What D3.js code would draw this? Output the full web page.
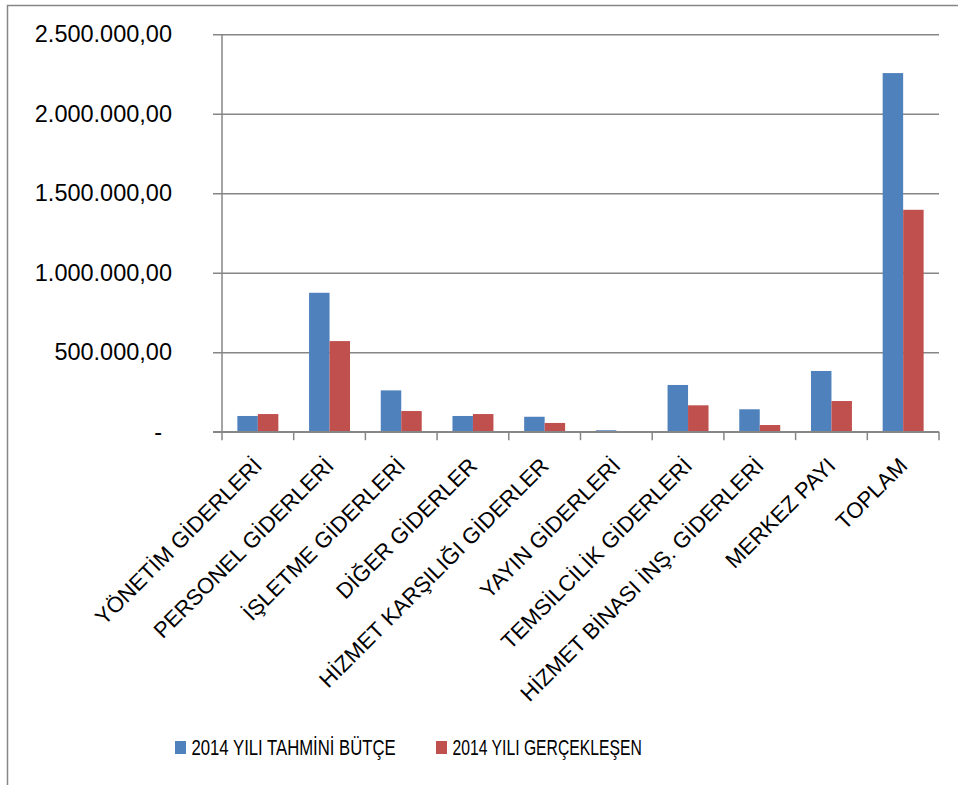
<!DOCTYPE html>
<html>
<head>
<meta charset="utf-8">
<script src="https://cdn.jsdelivr.net/npm/d3@7"></script>
<style>
  body { margin: 0; background: #fff; }
  text { font-family: "Liberation Sans", Arial, sans-serif; fill: #000; }
</style>
</head>
<body>
<div id="chart"></div>
<script>
// categories and the two series (TL)
var categories = ["YÖNETİM GİDERLERİ", "PERSONEL GİDERLERİ", "İŞLETME GİDERLERİ", "DİĞER GİDERLER",
  "HİZMET KARŞILIĞI GİDERLER", "YAYIN GİDERLERİ", "TEMSİLCİLİK GİDERLERİ",
  "HİZMET BİNASI İNŞ. GİDERLERİ", "MERKEZ PAYI", "TOPLAM"];
var seriesNames = ["2014 YILI TAHMİNİ BÜTÇE", "2014 YILI GERÇEKLEŞEN"];
var butce = [99000, 874000, 260000, 99000, 94000, 9000, 294000, 141000, 382000, 2256000];
var gerceklesen = [111000, 570000, 130000, 111000, 55000, 0, 166000, 42000, 193000, 1396000];
var yTicks = [0, 500000, 1000000, 1500000, 2000000, 2500000];
var colors = ["#4F81BD", "#C0504D"];

var W = 958, H = 785;
var plot = {left: 222, right: 939, top: 34.3, bottom: 431.7};

var svg = d3.select("#chart").append("svg")
    .attr("width", W)
    .attr("height", H);

// outer chart frame (only top and left are inside the picture)
svg.append("rect")
    .attr("x", 7.5).attr("y", 5.5)
    .attr("width", W + 20).attr("height", H + 20)
    .attr("fill", "none")
    .attr("stroke", "#868686")
    .attr("stroke-width", 1.5);

var y = d3.scaleLinear()
    .domain([0, 2500000])
    .range([plot.bottom, plot.top]);

// gap width 150% -> padding 1.5/3.5
var x = d3.scaleBand()
    .domain(categories)
    .range([plot.left, plot.right])
    .paddingInner(1.5 / 3.5)
    .paddingOuter(0.75 / 3.5);

var xs = d3.scaleBand()
    .domain(seriesNames)
    .range([0, x.bandwidth()]);

var tr = d3.formatLocale({decimal: ",", thousands: ".", grouping: [3], currency: ["", ""]});
var fmt = tr.format(",.2f");

// y axis with gridlines
var yAxis = svg.append("g")
    .attr("transform", "translate(213,0)")
    .call(d3.axisLeft(y)
        .tickValues(yTicks)
        .tickSizeInner(-(plot.right - 213))
        .tickSizeOuter(0)
        .tickPadding(41)
        .tickFormat(function(d) { return d === 0 ? "-" : fmt(d); }));
yAxis.select(".domain").remove();
yAxis.selectAll(".tick line")
    .attr("stroke", "#868686")
    .attr("stroke-width", 1.5);
yAxis.selectAll(".tick text")
    .style("font-size", "23.5px")
    .attr("fill", "#000")
    .filter(function(d) { return d === 0; })
    .attr("dx", -10);

// vertical axis line
svg.append("line")
    .attr("x1", plot.left).attr("x2", plot.left)
    .attr("y1", plot.top).attr("y2", plot.bottom)
    .attr("stroke", "#868686")
    .attr("stroke-width", 1.5);

// category boundary ticks
svg.append("g")
    .selectAll("line")
    .data(d3.range(categories.length + 1))
    .enter().append("line")
    .attr("x1", function(i) { return plot.left + i * x.step(); })
    .attr("x2", function(i) { return plot.left + i * x.step(); })
    .attr("y1", plot.bottom)
    .attr("y2", plot.bottom + 8.5)
    .attr("stroke", "#868686")
    .attr("stroke-width", 1.5);

// bars
var groups = svg.append("g")
    .selectAll("g")
    .data(categories)
    .enter().append("g")
    .attr("transform", function(d) { return "translate(" + x(d) + ",0)"; });

groups.selectAll("rect")
    .data(function(d, i) { return [butce[i], gerceklesen[i]]; })
    .enter().append("rect")
    .attr("x", function(v, j) { return xs(seriesNames[j]); })
    .attr("width", xs.bandwidth())
    .attr("y", function(v) { return y(v); })
    .attr("height", function(v) { return plot.bottom - y(v); })
    .attr("fill", function(v, j) { return colors[j]; });

// category labels
var xAxis = svg.append("g")
    .attr("transform", "translate(0," + plot.bottom + ")")
    .call(d3.axisBottom(x).tickSize(0));
xAxis.select(".domain").remove();
xAxis.selectAll(".tick text")
    .attr("fill", "#000")
    .style("font-size", "22px")
    .attr("text-anchor", "end")
    .attr("x", 0).attr("y", 0)
    .attr("dy", "0.35em")
    .attr("transform", "translate(0,30) rotate(-45)");

// x axis baseline on top of bars
svg.append("line")
    .attr("x1", 213).attr("x2", plot.right)
    .attr("y1", plot.bottom).attr("y2", plot.bottom)
    .attr("stroke", "#868686")
    .attr("stroke-width", 1.5);

// legend
var legendX = [175, 436];
var legendSqueeze = [0.76, 0.715];   // legend font is narrow in the original
var legend = svg.append("g")
    .selectAll("g")
    .data(seriesNames)
    .enter().append("g")
    .attr("transform", function(d, i) { return "translate(" + legendX[i] + ",741)"; });
legend.append("rect")
    .attr("width", 11).attr("height", 13)
    .attr("fill", function(d, i) { return colors[i]; });
legend.append("text")
    .attr("transform", function(d, i) { return "translate(16.5,6.5) scale(" + legendSqueeze[i] + ",1)"; })
    .attr("dy", "0.35em")
    .style("font-size", "22px")
    .text(function(d) { return d; });
</script>
</body>
</html>
